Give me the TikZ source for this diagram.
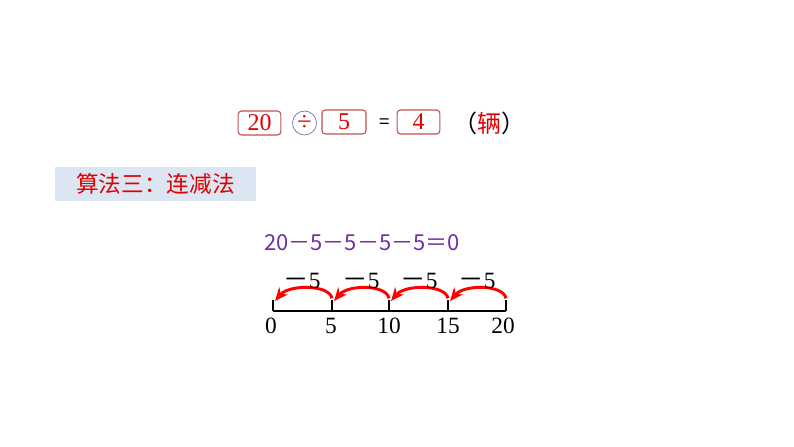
\documentclass[tikz,border=0pt]{standalone}
\usepackage{fontspec}
\setmainfont{Liberation Serif}
\newfontfamily\cjk{Noto Sans CJK SC}
\usetikzlibrary{arrows.meta}
\definecolor{boxred}{HTML}{C0504D}
\definecolor{txtred}{HTML}{E00000}
\definecolor{bannerblue}{HTML}{DCE6F2}
\definecolor{eqpurple}{HTML}{7030A0}
\definecolor{circblue}{HTML}{4F6EA8}
\begin{document}
\begin{tikzpicture}[x=0.75pt,y=-0.75pt,
  numbox/.style={draw=boxred, rounded corners=2.5pt, line width=0.8pt, minimum height=18pt, inner sep=0pt, text=txtred, font=\fontsize{18}{20}\selectfont},
  lbl/.style={inner sep=0pt, font=\fontsize{17.5}{20}\selectfont},
  jump/.style={draw=red, line width=2.2pt, -{Stealth[length=10pt,width=8.5pt]}},
  axis/.style={line width=1.6pt}]
\useasboundingbox (0,0) rectangle (794,447);
% equation with boxes
\node[numbox, minimum width=32pt] (b20) at (259.5,123) {20};
\node[circle, draw=circblue, line width=0.5pt, minimum size=18pt, inner sep=0pt, text=txtred, font=\fontsize{20}{20}\selectfont] (div) at (304.5,123) {÷};
\node[numbox, minimum width=33pt] (b5) at (344,122) {5};
\node[lbl, font=\fontsize{14}{15}\selectfont\cjk] (eq) at (385,124) {=};
\node[numbox, minimum width=32pt] (b4) at (418.5,122) {4};
\node[lbl, font=\fontsize{18}{20}\selectfont\cjk] (unit) at (489,123) {（{\color{txtred}辆}）};
% banner
\node[fill=bannerblue, minimum width=151pt, minimum height=25.5pt, inner sep=0pt, text=txtred, font=\fontsize{17}{19}\selectfont\cjk] (banner) at (155.5,184) {算法三：连减法};
% subtraction equation
\node[lbl, text=eqpurple, font=\fontsize{16.5}{18}\selectfont\cjk] (eqn) at (362,243) {20－5－5－5－5＝0};
% number line
\coordinate (p0) at (273,311);
\coordinate (p5) at (332,311);
\coordinate (p10) at (389,311);
\coordinate (p15) at (448,311);
\coordinate (p20) at (506,311);
\draw[axis] (p0) -- (p20);
\foreach \p in {p0,p5,p10,p15,p20} \draw[axis] (\p) -- ++(0,-11);
\node[lbl] (n0) at (271,326) {0};
\node[lbl] (n5) at (331,326) {5};
\node[lbl] (n10) at (389,326) {10};
\node[lbl] (n15) at (448,326) {15};
\node[lbl] (n20) at (503,326) {20};
% jumps
\foreach \a/\b in {p20/p15, p15/p10, p10/p5, p5/p0} {
  \draw[jump] ([yshift=9.5pt]\a) .. controls ([xshift=-2pt,yshift=20pt]\a) and ([xshift=12pt,yshift=20pt]\b) .. ([xshift=1.5pt,yshift=7.5pt]\b);
}
\node[lbl] (m1) at (302,281) {{\cjk\fontsize{19}{20}\selectfont －}5};
\node[lbl] (m2) at (361,281) {{\cjk\fontsize{19}{20}\selectfont －}5};
\node[lbl] (m3) at (419,281) {{\cjk\fontsize{19}{20}\selectfont －}5};
\node[lbl] (m4) at (477,281) {{\cjk\fontsize{19}{20}\selectfont －}5};
\end{tikzpicture}
\end{document}
